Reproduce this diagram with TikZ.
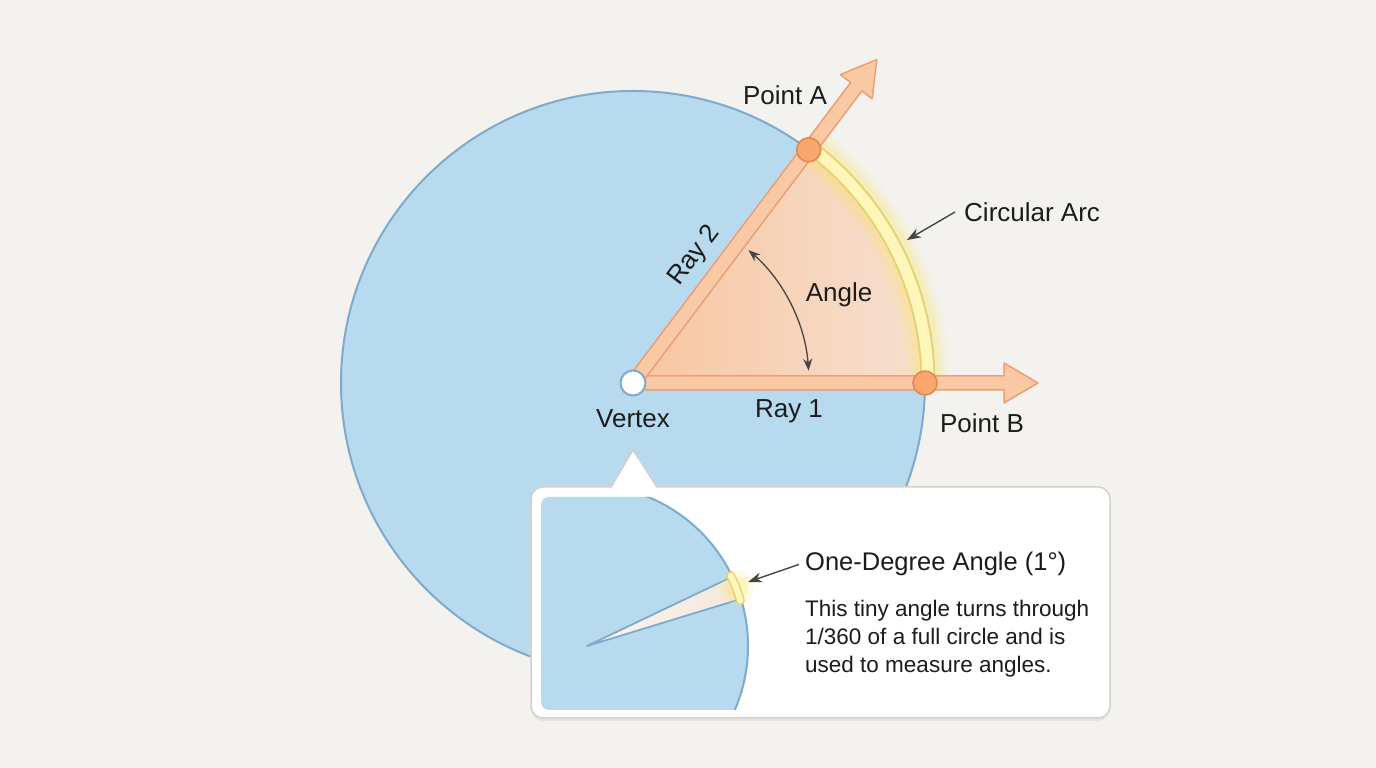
\documentclass[tikz,border=0pt]{standalone}
\usepackage{fontspec}
\setmainfont{Liberation Sans}
\usetikzlibrary{arrows.meta,calc,positioning,shadows}

\definecolor{bgcol}{HTML}{F3F2EE}
\definecolor{diskfill}{HTML}{B7DAEE}
\definecolor{diskline}{HTML}{7FAACB}
\definecolor{rayfill}{HTML}{F9C9A6}
\definecolor{rayline}{HTML}{EC9F72}
\definecolor{ptfill}{HTML}{F8A86C}
\definecolor{ptline}{HTML}{DE8752}
\definecolor{wedgein}{HTML}{F8C5A0}
\definecolor{wedgeout}{HTML}{F6E1D1}
\definecolor{smallwedge}{HTML}{F3E7DA}
\definecolor{arcfill}{HTML}{FFF7BA}
\definecolor{arcline}{HTML}{E4D273}
\definecolor{glowcol}{HTML}{FFE65A}
\definecolor{pointer}{HTML}{454545}
\definecolor{boxline}{HTML}{D5D1C9}
\definecolor{txt}{HTML}{1C1C1C}

\tikzset{
  lbl/.style={font=\fontsize{26}{30}\selectfont, text=txt, inner sep=0pt},
  dot/.style={circle, minimum size=24pt, inner sep=0pt, fill=ptfill, draw=ptline, line width=1.5pt},
  rayshape/.style={fill=rayfill, draw=rayline, line width=1.5pt, line join=round},
  callarrow/.style={-{Stealth[length=14pt,width=10pt]}, draw=pointer, line width=1.4pt},
}

% ray with a wide head: name, start, tip
\newcommand{\rayarrow}[3]{%
  \coordinate (#1-hb) at ($(#3)!34pt!(#2)$);
  \filldraw[rayshape] ($(#2)!7pt!90:(#3)$) -- ($(#1-hb)!7pt!-90:(#2)$)
    -- ($(#1-hb)!20pt!-90:(#2)$) -- (#3) -- ($(#1-hb)!20pt!90:(#2)$)
    -- ($(#1-hb)!7pt!90:(#2)$) -- ($(#2)!7pt!-90:(#3)$) -- cycle;
}

\begin{document}
\begin{tikzpicture}[x=1pt,y=1pt]
    \useasboundingbox (0,0) rectangle (1376,768);
    \fill[bgcol] (0,0) rectangle (1376,768);

    % Full circle
    \coordinate (O) at (633,385);
    \filldraw[fill=diskfill, draw=diskline, line width=2pt] (O) circle (292);

    % Angle wedge
    \begin{scope}
        \clip (O) -- ++(0:292) arc (0:53:292) -- cycle;
        \shade[left color=wedgein, right color=wedgeout] (633,385) rectangle (930,680);
    \end{scope}

    % Circular arc with glow
    \foreach \w/\o in {44/0.08, 34/0.12, 26/0.18} {
        \draw[glowcol, line width=\w pt, opacity=\o] ($(O)+(0:295)$) arc (0:53:295);
    }
    \draw[arcline, line width=15pt] ($(O)+(0:295)$) arc (0:53:295);
    \draw[arcfill, line width=11pt] ($(O)+(0:295)$) arc (0:53:295);

    % Angle marker
    \draw[{Stealth[length=12pt,width=9pt]}-{Stealth[length=12pt,width=9pt]}, draw=pointer, line width=1.3pt]
        ($(O)+(49:176)$) arc (49:4:176);
    \node[lbl] (lblAng) at (839,473) {Angle};

    % Rays
    \coordinate (tip1) at ($(O)+(0:405)$);
    \coordinate (tip2) at ($(O)+(53:405)$);
    \rayarrow{r1}{O}{tip1}
    \rayarrow{r2}{O}{tip2}

    % Points
    \node[dot] (ptA) at ($(O)+(53:292)$) {};
    \node[dot] (ptB) at ($(O)+(0:292)$) {};
    \node[circle, minimum size=25pt, inner sep=0pt, fill=white, draw=diskline, line width=2pt] (vtx) at (O) {};

    % Labels
    \node[lbl] (lblA) at (785,673) {Point A};
    \node[lbl] (lblB) at (982,345) {Point B};
    \node[lbl, rotate=53] (lblR2) at (695,512) {Ray 2};
    \node[lbl] (lblR1) at (789,357) {Ray 1};
    \node[lbl] (lblV) at (633,349) {Vertex};
    \node[lbl, anchor=west] (lblArc) at (964,556) {Circular Arc};
    \coordinate (arcend) at (907,528);
    \draw[callarrow] ([xshift=-9pt]lblArc.west) -- (arcend);

    % Callout box
    \node[draw=boxline, fill=white, rounded corners=12pt, line width=1.5pt,
          minimum width=579pt, minimum height=231pt, inner sep=0pt,
          drop shadow={shadow xshift=0pt, shadow yshift=-3pt, opacity=0.12}] (callout) at (820.5,165.5) {};
    \fill[white] (611,279) -- (633,318) -- (657,279) -- cycle;
    \draw[boxline, line width=1.5pt, line join=round] (611,281) -- (633,318) -- (657,281);

    % Zoomed one-degree view
    \coordinate (C) at (587,122);
    \begin{scope}
        \clip[rounded corners=8pt] (541,58) rectangle (800,271);
        \filldraw[fill=diskfill, draw=diskline, line width=2pt] (C) circle (161);
    \end{scope}
    \begin{scope}
        \clip (C) -- ($(C)+(17:160)$) arc (17:25.5:160) -- cycle;
        \shade[left color=white!60!smallwedge, right color=smallwedge] (587,122) rectangle (750,200);
    \end{scope}
    \draw[diskline, line width=1.8pt, line join=round]
        ($(C)+(25.5:158)$) -- (C) -- ($(C)+(17:158)$);
    \fill[glowcol, opacity=0.18] ($(C)+(21.3:161)$) circle (17);
    \fill[glowcol, opacity=0.25] ($(C)+(21.3:161)$) circle (11);
    \draw[arcline, line width=9pt, line cap=round] ($(C)+(16.5:160)$) arc (16.5:26:160);
    \draw[arcfill, line width=6pt, line cap=round] ($(C)+(16.5:160)$) arc (16.5:26:160);

    % Callout text
    \node[font=\fontsize{25.5}{30}\selectfont, text=txt, inner sep=0pt, anchor=base west] (title) at (805,197) {One-Degree Angle (1°)};
    \coordinate (oneend) at (748,186);
    \draw[callarrow] ([xshift=-6pt]title.west) -- (oneend);
    \node[font=\fontsize{22.5}{28}\selectfont, text=txt, inner sep=0pt, anchor=north west, align=left] (body) at (805,168)
        {This tiny angle turns through\\1/360 of a full circle and is\\used to measure angles.};
\end{tikzpicture}
\end{document}
